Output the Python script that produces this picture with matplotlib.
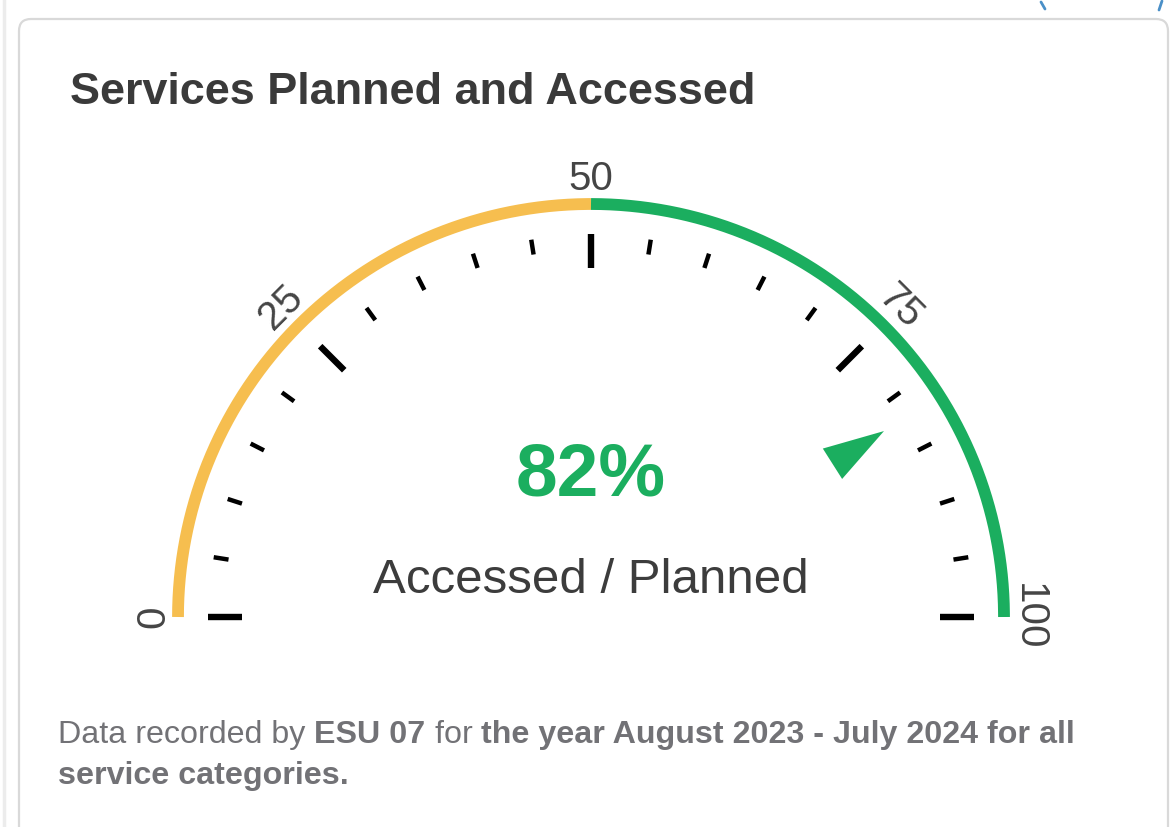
import numpy as np
import matplotlib
matplotlib.use('Agg')
from matplotlib import pyplot as plt
from matplotlib.patches import FancyBboxPatch, Polygon

plt.rcParams['font.family'] = ['Liberation Sans', 'DejaVu Sans']

# data
title = 'Services Planned and Accessed'
value = 82
scale_min, scale_max = 0, 100
split_at = 50
major_ticks = [0, 25, 50, 75, 100]
minor_ticks = [5, 10, 15, 20, 30, 35, 40, 45, 55, 60, 65, 70, 80, 85, 90, 95]
center_label = 'Accessed / Planned'
footer_line1 = [('Data recorded by ', 'normal'), ('ESU 07', 'bold'), (' for ', 'normal'),
                ('the year August 2023 - July 2024 for all', 'bold')]
footer_line2 = [('service categories.', 'bold')]

W, H = 1174, 827
YELLOW = '#F6BE4F'
GREEN = '#1BAE5F'

# gauge geometry (pixels)
cx, cy = 591, 617
r_arc = 413


def ang(v):
    # value -> angle in radians (0 at left, 100 at right)
    return np.pi * (1 - (v - scale_min) / (scale_max - scale_min))


def pt(v, r):
    a = ang(v)
    return cx + r * np.cos(a), cy - r * np.sin(a)


fig = plt.figure(figsize=(W / 100, H / 100), dpi=100)
ax = fig.add_axes([0, 0, 1, 1])
ax.set_xlim(0, W)
ax.set_ylim(H, 0)
ax.axis('off')

# card and page bits
ax.plot([4, 4], [0, H], color='#ececec', lw=2.5)
card = FancyBboxPatch((19, 19), 1149, 820, boxstyle='round,pad=0,rounding_size=12',
                      fc='white', ec='#d9d9d9', lw=1.6)
ax.add_patch(card)
ax.plot([1041, 1045], [2, 9], color='#4a90c8', lw=2, solid_capstyle='round')
ax.plot([1162, 1159], [1, 10], color='#4a90c8', lw=2, solid_capstyle='round')

ax.text(70, 104, title, fontsize=32.4, fontweight='bold', color='#3a3a3a', va='baseline')

# arc
vals = np.linspace(scale_min, split_at, 200)
xs, ys = pt(vals, r_arc)
ax.plot(xs, ys, color=YELLOW, lw=8.5, solid_capstyle='butt')
vals = np.linspace(split_at, scale_max, 200)
xs, ys = pt(vals, r_arc)
ax.plot(xs, ys, color=GREEN, lw=8.5, solid_capstyle='butt')

# ticks
for t in major_ticks:
    x0, y0 = pt(t, 349)
    x1, y1 = pt(t, 383)
    ax.plot([x0, x1], [y0, y1], color='black', lw=4.6, solid_capstyle='butt')
for t in minor_ticks:
    x0, y0 = pt(t, 367)
    x1, y1 = pt(t, 382)
    ax.plot([x0, x1], [y0, y1], color='black', lw=3.2, solid_capstyle='butt')

# tick labels
for t in major_ticks:
    x, y = pt(t, 438)
    rot = np.degrees(ang(t)) - 90
    ax.text(x, y, str(t), fontsize=29, color='#454545', ha='center', va='center',
            rotation=rot, rotation_mode='anchor')

# pointer
a = ang(value)
tip = np.array(pt(value, 347))
base = np.array(pt(value, 286))
perp = np.array([np.sin(a), np.cos(a)])
tri = Polygon([tip, base + 18 * perp, base - 18 * perp], closed=True, fc=GREEN, ec='none')
ax.add_patch(tri)

# center text
ax.text(cx, 496, f'{value}%', fontsize=54, fontweight='bold', color=GREEN,
        ha='center', va='baseline')
ax.text(cx, 593, center_label, fontsize=35.5, color='#3c3c3c', ha='center', va='baseline')

# footer with mixed weights
fig.canvas.draw()
renderer = fig.canvas.get_renderer()
for parts, base_y in [(footer_line1, 743), (footer_line2, 784)]:
    x = 58
    for s, w in parts:
        t = ax.text(x, base_y, s, fontsize=23.2, fontweight=w, color='#727276', va='baseline')
        bb = t.get_window_extent(renderer)
        x += bb.width

fig.savefig('out.png', dpi=100)
